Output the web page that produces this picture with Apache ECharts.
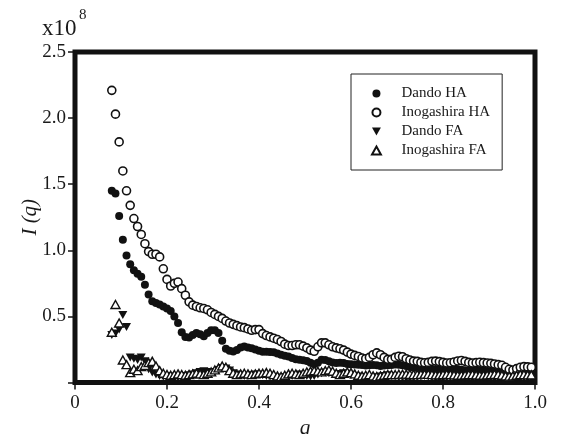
<!DOCTYPE html>
<html>
<head>
<meta charset="utf-8">
<script src="https://cdn.jsdelivr.net/npm/echarts@6/dist/echarts.min.js"></script>
<style>html,body{margin:0;padding:0;background:#fff;}#c{width:568px;height:434px;}</style>
</head>
<body>
<div id="c"></div>
<script>
// q values (shared grid)
var qValues = [
  0.080,0.088,0.096,0.104,0.112,0.120,0.128,0.136,0.144,0.152,
  0.160,0.168,0.176,0.184,0.192,0.200,0.208,0.216,0.224,0.232,
  0.240,0.248,0.256,0.264,0.272,0.280,0.288,0.296,0.304,0.312,
  0.320,0.328,0.336,0.344,0.352,0.360,0.368,0.376,0.384,0.392,
  0.400,0.408,0.416,0.424,0.432,0.440,0.448,0.456,0.464,0.472,
  0.480,0.488,0.496,0.504,0.512,0.520,0.528,0.536,0.544,0.552,
  0.560,0.568,0.576,0.584,0.592,0.600,0.608,0.616,0.624,0.632,
  0.640,0.648,0.656,0.664,0.672,0.680,0.688,0.696,0.704,0.712,
  0.720,0.728,0.736,0.744,0.752,0.760,0.768,0.776,0.784,0.792,
  0.800,0.808,0.816,0.824,0.832,0.840,0.848,0.856,0.864,0.872,
  0.880,0.888,0.896,0.904,0.912,0.920,0.928,0.936,0.944,0.952,
  0.960,0.968,0.976,0.984,0.992
];
// I(q) in units of 1e8
var dandoHA = [
  1.45,1.43,1.26,1.08,0.96,0.895,0.85,0.823,0.80,0.74,
  0.665,0.615,0.602,0.59,0.575,0.56,0.54,0.50,0.45,0.38,
  0.345,0.34,0.36,0.375,0.365,0.35,0.375,0.395,0.395,0.375,
  0.315,0.255,0.24,0.235,0.245,0.265,0.272,0.265,0.26,0.25,
  0.24,0.233,0.232,0.23,0.228,0.22,0.21,0.203,0.197,0.185,
  0.175,0.172,0.168,0.162,0.15,0.138,0.15,0.172,0.17,0.16,
  0.152,0.148,0.15,0.148,0.14,0.138,0.136,0.135,0.132,0.128,
  0.13,0.132,0.13,0.125,0.128,0.13,0.133,0.136,0.135,0.13,
  0.125,0.118,0.112,0.11,0.108,0.105,0.10,0.098,0.098,0.10,
  0.103,0.098,0.095,0.097,0.10,0.097,0.092,0.09,0.092,0.095,
  0.093,0.09,0.087,0.085,0.086,0.088,0.085,0.08,0.078,0.08,
  0.083,0.085,0.084,0.082,0.08
];
var inogashiraHA = [
  2.21,2.03,1.82,1.60,1.45,1.34,1.24,1.18,1.12,1.05,
  0.99,0.97,0.97,0.95,0.86,0.78,0.73,0.75,0.76,0.71,
  0.66,0.61,0.585,0.575,0.565,0.56,0.55,0.53,0.515,0.50,
  0.485,0.465,0.45,0.44,0.43,0.42,0.415,0.405,0.395,0.40,
  0.40,0.37,0.355,0.345,0.335,0.325,0.31,0.29,0.28,0.28,
  0.285,0.285,0.275,0.262,0.245,0.236,0.27,0.30,0.30,0.285,
  0.27,0.262,0.255,0.245,0.23,0.215,0.205,0.197,0.185,0.18,
  0.19,0.21,0.224,0.21,0.19,0.175,0.175,0.19,0.199,0.195,
  0.18,0.17,0.162,0.16,0.152,0.149,0.152,0.16,0.162,0.158,
  0.152,0.148,0.149,0.155,0.163,0.166,0.16,0.152,0.148,0.15,
  0.153,0.15,0.148,0.145,0.14,0.135,0.13,0.115,0.10,0.095,
  0.105,0.115,0.12,0.118,0.115
];
var dandoFA = [
  0.36,0.37,0.40,0.51,0.42,0.19,0.18,0.17,0.19,0.16,
  0.10,0.075,0.06,0.05,0.045,0.05,0.045,0.04,0.04,0.045,
  0.05,0.055,0.06,0.07,0.08,0.085,0.08,0.075,0.08,0.095,
  0.11,0.105,0.09,0.07,0.06,0.055,0.05,0.05,0.055,0.06,
  0.06,0.055,0.05,0.045,0.04,0.035,0.035,0.04,0.045,0.05,
  0.055,0.06,0.055,0.05,0.045,0.05,0.06,0.07,0.075,0.07,
  0.065,0.06,0.065,0.07,0.065,0.055,0.05,0.045,0.04,0.035,
  0.03,0.035,0.04,0.045,0.05,0.055,0.05,0.045,0.04,0.035,
  0.03,0.03,0.035,0.04,0.045,0.05,0.045,0.04,0.035,0.03,
  0.03,0.035,0.04,0.045,0.045,0.04,0.035,0.03,0.03,0.035,
  0.04,0.04,0.035,0.03,0.03,0.035,0.04,0.04,0.035,0.03,
  0.03,0.035,0.035,0.03,0.03
];
var inogashiraFA = [
  0.38,0.59,0.45,0.17,0.135,0.075,0.10,0.09,0.12,0.13,
  0.15,0.16,0.125,0.09,0.07,0.06,0.055,0.06,0.065,0.06,
  0.055,0.06,0.065,0.07,0.065,0.06,0.07,0.08,0.095,0.11,
  0.125,0.115,0.09,0.07,0.06,0.065,0.07,0.065,0.06,0.065,
  0.07,0.07,0.075,0.07,0.06,0.05,0.045,0.055,0.065,0.07,
  0.065,0.06,0.07,0.08,0.085,0.09,0.085,0.08,0.09,0.095,
  0.085,0.07,0.06,0.07,0.08,0.075,0.065,0.055,0.05,0.055,
  0.06,0.05,0.045,0.05,0.055,0.06,0.06,0.06,0.062,0.063,
  0.063,0.062,0.06,0.06,0.062,0.063,0.062,0.06,0.058,0.058,
  0.06,0.062,0.06,0.058,0.055,0.055,0.058,0.06,0.06,0.058,
  0.055,0.055,0.058,0.06,0.062,0.06,0.055,0.05,0.048,0.05,
  0.055,0.06,0.06,0.058,0.058
];
var seriesNames = ['Dando HA', 'Inogashira HA', 'Dando FA', 'Inogashira FA'];

function pairs(ys) { return qValues.map(function (q, i) { return [q, ys[i]]; }); }

var serif = '"Liberation Serif", "DejaVu Serif", serif';
var downTri = 'path://M0,0L10,0L5,9Z';
var upTri = 'path://M5,0L10,9L0,9Z';

var chart = echarts.init(document.getElementById('c'), null, { renderer: 'canvas' });
chart.setOption({
  animation: false,
  backgroundColor: '#fff',
  grid: { left: 75, right: 33, top: 52, bottom: 51.5, outerBoundsMode: 'none', containLabel: false,
    show: true, borderColor: '#111', borderWidth: 5, backgroundColor: 'transparent' },
  xAxis: {
    type: 'value', min: 0, max: 1.0, interval: 0.2,
    name: 'q', nameLocation: 'middle', nameGap: 35, nameMoveOverlap: false,
    nameTextStyle: { fontFamily: serif, fontStyle: 'italic', fontSize: 21, color: '#1a1a1a' },
    axisLine: { show: false },
    axisTick: { show: true, inside: false, length: 7, lineStyle: { color: '#111', width: 1.5 } },
    splitLine: { show: false },
    axisLabel: {
      fontFamily: serif, fontSize: 19, color: '#1a1a1a', margin: 11,
      formatter: function (v) { return v === 0 ? '0' : v.toFixed(1); }
    }
  },
  yAxis: {
    type: 'value', min: 0, max: 2.5, interval: 0.5,
    name: 'I (q)', nameLocation: 'middle', nameGap: 34, nameRotate: 90, nameMoveOverlap: false,
    nameTextStyle: { fontFamily: serif, fontStyle: 'italic', fontSize: 21, color: '#1a1a1a' },
    axisLine: { show: false },
    axisTick: { show: true, inside: false, length: 7, lineStyle: { color: '#111', width: 1.5 } },
    splitLine: { show: false },
    axisLabel: {
      fontFamily: serif, fontSize: 19, color: '#1a1a1a', margin: 9,
      formatter: function (v) { return v === 0 ? '' : v.toFixed(1); }
    }
  },
  legend: {
    orient: 'vertical', left: 351, top: 74,
    padding: [12, 12, 12, 20],
    borderColor: '#222', borderWidth: 1,
    itemGap: 4, itemWidth: 40, itemHeight: 8,
    textStyle: { fontFamily: serif, fontSize: 15, color: '#1a1a1a' },
    data: seriesNames
  },
  graphic: [
    { type: 'text', left: 42, top: 17, style: { text: 'x10', font: '23px ' + serif, fill: '#1a1a1a' } },
    { type: 'text', left: 79, top: 8, style: { text: '8', font: '15px ' + serif, fill: '#1a1a1a' } }
  ],
  series: [
    { name: seriesNames[0], type: 'scatter', data: pairs(dandoHA), symbol: 'circle', symbolSize: 8,
      itemStyle: { color: '#111', opacity: 1 } },
    { name: seriesNames[1], type: 'scatter', data: pairs(inogashiraHA), symbol: 'circle', symbolSize: 8,
      itemStyle: { color: '#fff', borderColor: '#111', borderWidth: 1.6, opacity: 1 } },
    { name: seriesNames[2], type: 'scatter', data: pairs(dandoFA), symbol: downTri, symbolSize: [9, 8],
      itemStyle: { color: '#111', opacity: 1 } },
    { name: seriesNames[3], type: 'scatter', data: pairs(inogashiraFA), symbol: upTri, symbolSize: [9, 8],
      itemStyle: { color: '#fff', borderColor: '#111', borderWidth: 1.4, opacity: 1 } }
  ]
});
</script>
</body>
</html>
